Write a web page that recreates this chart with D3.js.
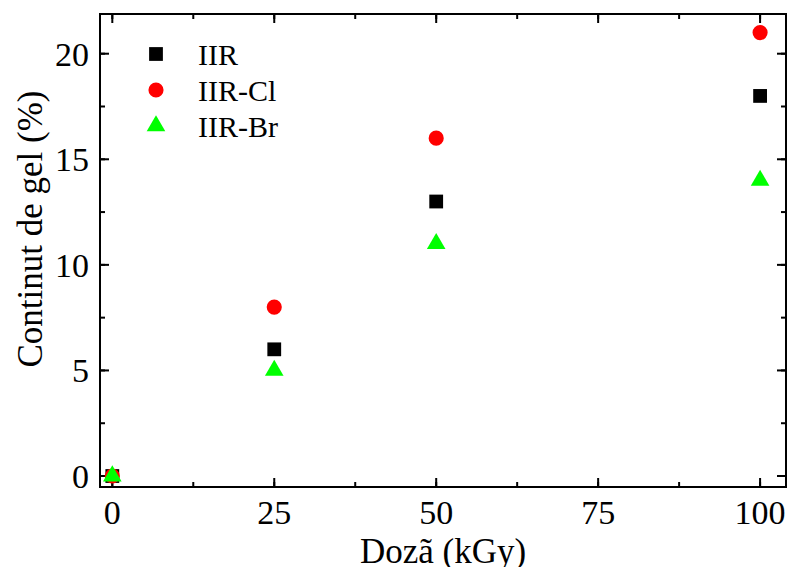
<!DOCTYPE html>
<html>
<head>
<meta charset="utf-8">
<script src="https://cdn.jsdelivr.net/npm/d3@7"></script>
<style>
  body { margin: 0; background: #fff; }
  text { font-family: "Liberation Serif", "Times New Roman", serif; fill: #000; }
</style>
</head>
<body>
<svg id="chart" width="791" height="567"></svg>
<script>
// data
var doses = [0, 25, 50, 100];
var iir = [0, 6, 13, 18];
var iirCl = [0, 8, 16, 21];
var iirBr = [0, 5, 11, 14];
var seriesNames = ["IIR", "IIR-Cl", "IIR-Br"];
var xTicks = [0, 25, 50, 75, 100];
var yTicks = [0, 5, 10, 15, 20];

var svg = d3.select("#chart");
var plotL = 100, plotR = 786, plotT = 14, plotB = 487;

var x = d3.scaleLinear().domain([-1.9, 104]).range([plotL, plotR]);
var y = d3.scaleLinear().domain([-0.52, 21.88]).range([plotB, plotT]);

var series = [
  {name: seriesNames[0], vals: iir, color: "#000", shape: d3.symbolSquare, size: 190},
  {name: seriesNames[1], vals: iirCl, color: "#ff0000", shape: d3.symbolCircle, size: 180},
  {name: seriesNames[2], vals: iirBr, color: "#00ff00", shape: d3.symbolTriangle, size: 150}
];

// frame
svg.append("rect")
  .attr("x", plotL).attr("y", plotT)
  .attr("width", plotR - plotL).attr("height", plotB - plotT)
  .attr("fill", "none").attr("stroke", "#000").attr("stroke-width", 2);

var minorX = d3.range(0, 101, 12.5);
var minorY = d3.range(0, 21, 2.5);

function ticks(g, vals, len, isX, pos, dir) {
  g.selectAll(null).data(vals).enter().append("line")
    .attr("x1", function(d) { return isX ? x(d) : pos; })
    .attr("x2", function(d) { return isX ? x(d) : pos + dir * len; })
    .attr("y1", function(d) { return isX ? pos : y(d); })
    .attr("y2", function(d) { return isX ? pos + dir * len : y(d); })
    .attr("stroke", "#000").attr("stroke-width", 2);
}
var tg = svg.append("g");
ticks(tg, minorX, 5, true, plotB, -1);
ticks(tg, minorX, 5, true, plotT, 1);
ticks(tg, xTicks, 9, true, plotB, -1);
ticks(tg, xTicks, 9, true, plotT, 1);
ticks(tg, minorY, 5, false, plotL, 1);
ticks(tg, minorY, 5, false, plotR, -1);
ticks(tg, yTicks, 9, false, plotL, 1);
ticks(tg, yTicks, 9, false, plotR, -1);

// tick labels
svg.selectAll(".xl").data(xTicks).enter().append("text")
  .attr("x", function(d) { return x(d); })
  .attr("y", 524)
  .attr("text-anchor", "middle")
  .style("font-size", "34px")
  .text(function(d) { return d; });

svg.selectAll(".yl").data(yTicks).enter().append("text")
  .attr("x", 89)
  .attr("y", function(d) { return y(d) + 12; })
  .attr("text-anchor", "end")
  .style("font-size", "34px")
  .text(function(d) { return d; });

// axis titles
svg.append("text")
  .attr("x", 443).attr("y", 563)
  .attr("text-anchor", "middle")
  .style("font-size", "35px")
  .text("Dozã (kGy)");

svg.append("text")
  .attr("transform", "translate(42,229) rotate(-90)")
  .attr("text-anchor", "middle")
  .style("font-size", "35px")
  .text("Continut de gel (%)");

// points
series.forEach(function(s) {
  svg.append("g").selectAll("path")
    .data(doses.map(function(d, i) { return [d, s.vals[i]]; }))
    .enter().append("path")
    .attr("d", d3.symbol().type(s.shape).size(s.size))
    .attr("transform", function(d) { return "translate(" + x(d[0]) + "," + y(d[1]) + ")"; })
    .attr("fill", s.color);
});

// legend
var leg = svg.append("g");
series.forEach(function(s, i) {
  var cy = 54 + i * 36;
  leg.append("path")
    .attr("d", d3.symbol().type(s.shape).size(s.size))
    .attr("transform", "translate(156," + cy + ")")
    .attr("fill", s.color);
  leg.append("text")
    .attr("x", 198).attr("y", cy + 11)
    .style("font-size", "30px")
    .text(s.name);
});
</script>
</body>
</html>
